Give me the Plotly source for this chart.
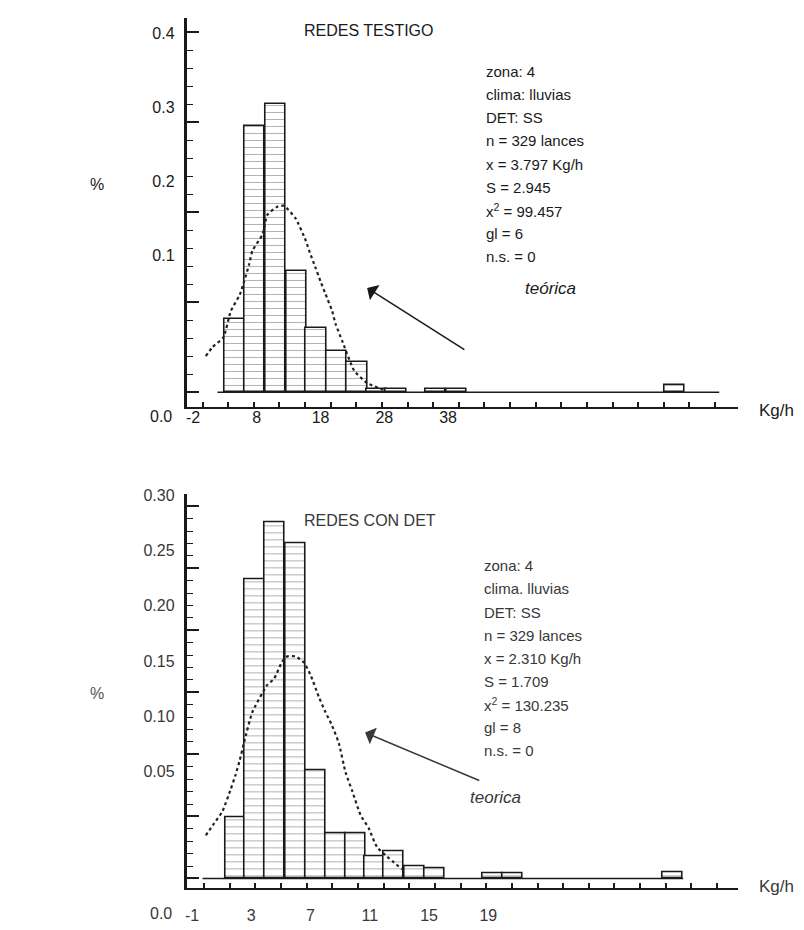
import plotly.graph_objects as go

# ---------------- data: top panel (REDES TESTIGO) ----------------
top_bin_center = [4.47, 7.66, 10.91, 14.22, 17.27, 20.48, 23.74, 26.76, 29.86, 36.05, 39.35, 73.5]
top_freq = [0.081, 0.296, 0.320, 0.135, 0.071, 0.046, 0.033, 0.003, 0.004, 0.004, 0.004, 0.008]
top_bin_width = 3.2
top_theory_x = [0.0, 1.05, 2.77, 3.92, 5.32, 6.01, 6.80, 7.31, 8.88, 9.66, 11.22, 12.27,
                14.09, 15.65, 16.18, 17.22, 18.0, 18.78, 19.83, 20.35, 21.40, 23.27, 25.31, 28.13]
top_theory_y = [0.040, 0.050, 0.061, 0.090, 0.108, 0.123, 0.142, 0.157, 0.175, 0.197, 0.206, 0.207,
                0.193, 0.169, 0.158, 0.138, 0.123, 0.109, 0.090, 0.076, 0.057, 0.024, 0.010, 0.002]
top_xtick_vals = [-2, 8, 18, 28, 38]
top_ytick_vals = [0.1, 0.2, 0.3, 0.4]
top_title = "REDES TESTIGO"
top_stats = ["zona: 4", "clima: lluvias", "DET: SS", "n = 329 lances", "x = 3.797 Kg/h",
             "S = 2.945", "x<sup>2</sup> = 99.457", "gl = 6", "n.s. = 0"]
top_curve_label = "teórica"

# ---------------- data: bottom panel (REDES CON DET) ----------------
bot_bin_center = [1.93, 3.24, 4.59, 5.99, 7.32, 8.66, 10.03, 11.32, 12.62, 14.0, 15.34, 19.30, 20.65, 31.47]
bot_freq = [0.049, 0.241, 0.287, 0.270, 0.087, 0.036, 0.036, 0.018, 0.022, 0.010, 0.008, 0.004, 0.004, 0.005]
bot_bin_width = 1.35
bot_theory_x = [-0.07, 0.50, 1.05, 1.61, 1.95, 2.22, 2.52, 3.07, 4.08, 4.54, 5.09, 5.43, 5.99,
                6.56, 7.0, 7.57, 8.01, 8.46, 8.91, 9.36, 9.81, 10.37, 10.93, 11.49, 13.18]
bot_theory_y = [0.0348, 0.0445, 0.0541, 0.0719, 0.0840, 0.0953, 0.110, 0.134, 0.156, 0.161, 0.175,
                0.179, 0.179, 0.174, 0.164, 0.146, 0.134, 0.123, 0.109, 0.0857, 0.0706, 0.0513,
                0.0404, 0.0253, 0.0074]
bot_xtick_vals = [-1, 3, 7, 11, 15, 19]
bot_ytick_vals = [0.05, 0.10, 0.15, 0.20, 0.25, 0.30]
bot_title = "REDES CON DET"
bot_stats = ["zona: 4", "clima. lluvias", "DET: SS", "n = 329 lances", "x = 2.310 Kg/h",
             "S = 1.709", "x<sup>2</sup> = 130.235", "gl = 8", "n.s. = 0"]
bot_curve_label = "teorica"

unit_label = "Kg/h"
pct_label = "%"
zero_label = "0.0"

# ---------------- layout constants ----------------
W, H = 804, 930
FONT = "Liberation Sans, Arial, sans-serif"
INK = "#1a1a1a"
INK2 = "#383838"


def px(xp):
    return xp / W


def py(yp):
    return 1 - yp / H


bar_marker = dict(
    color="white",
    line=dict(color=INK, width=1.6),
    pattern=dict(shape="-", size=7, solidity=0.13, fgcolor="#555555", fillmode="overlay"),
)
curve_line = dict(color="#222222", width=2.2, dash="dot", shape="spline", smoothing=0.5)

fig = go.Figure()
fig.add_trace(go.Bar(x=top_bin_center, y=top_freq, width=top_bin_width, marker=bar_marker,
                     xaxis="x", yaxis="y", showlegend=False, hoverinfo="skip"))
fig.add_trace(go.Scatter(x=top_theory_x, y=top_theory_y, mode="lines", line=curve_line,
                         xaxis="x", yaxis="y", showlegend=False, hoverinfo="skip"))
fig.add_trace(go.Bar(x=bot_bin_center, y=bot_freq, width=bot_bin_width, marker=bar_marker,
                     xaxis="x2", yaxis="y2", showlegend=False, hoverinfo="skip"))
fig.add_trace(go.Scatter(x=bot_theory_x, y=bot_theory_y, mode="lines", line=curve_line,
                         xaxis="x2", yaxis="y2", showlegend=False, hoverinfo="skip"))
# carriers for the tick-label axes
fig.add_trace(go.Scatter(x=[None], y=[None], xaxis="x", yaxis="y3", showlegend=False, hoverinfo="skip"))
fig.add_trace(go.Scatter(x=[None], y=[None], xaxis="x2", yaxis="y4", showlegend=False, hoverinfo="skip"))


def xaxis_cfg(domain, rng, tickvals, tick0, dtick, anchor, standoff, color):
    return dict(
        domain=domain, range=rng, anchor=anchor,
        showline=True, linewidth=2, linecolor=INK, mirror=False,
        showgrid=False, zeroline=False,
        tickmode="array", tickvals=tickvals, ticktext=[str(v) for v in tickvals],
        ticks="", tickfont=dict(family=FONT, size=16, color=color),
        ticklabelstandoff=standoff,
        minor=dict(ticks="inside", ticklen=5, tickwidth=1.5, tickcolor=INK,
                   tickmode="linear", tick0=tick0, dtick=dtick, showgrid=False),
    )


def yaxis_cfg(domain, rng, major, minor_dtick, anchor):
    return dict(
        domain=domain, range=rng, anchor=anchor,
        showline=True, linewidth=2.5, linecolor=INK,
        showgrid=False, zeroline=False,
        tickmode="linear", tick0=0, dtick=major, showticklabels=False,
        ticks="inside", ticklen=13, tickwidth=1.6, tickcolor=INK,
        minor=dict(ticks="inside", ticklen=7, tickwidth=1.3, tickcolor=INK,
                   tickmode="linear", tick0=0, dtick=minor_dtick, showgrid=False),
    )


def label_axis_cfg(over, anchor, rng, vals, fmt, color):
    return dict(
        overlaying=over, anchor=anchor, side="left", range=rng,
        showline=False, showgrid=False, zeroline=False, ticks="",
        tickmode="array", tickvals=vals, ticktext=[fmt.format(v) for v in vals],
        tickfont=dict(family=FONT, size=16, color=color), ticklabelstandoff=11,
    )


fig.update_layout(
    width=W, height=H, margin=dict(l=0, r=0, t=0, b=0),
    paper_bgcolor="white", plot_bgcolor="white",
    font=dict(family=FONT, size=15, color=INK),
    bargap=0,
    xaxis=xaxis_cfg([px(177), px(730)], [-3.017, 83.52], top_xtick_vals, -0.513, 4.02, "y", -5, INK),
    yaxis=yaxis_cfg([py(395), py(3)], [-0.01654, 0.4157], 0.1, 0.02, "x"),
    yaxis3=label_axis_cfg("y", "x", [-0.1061, 0.4215], top_ytick_vals, "{:.1f}", INK),
    xaxis2=xaxis_cfg([px(177), px(730)], [-1.370, 35.87], bot_xtick_vals, -0.178, 1.731, "y2", 11, INK2),
    yaxis2=yaxis_cfg([py(880), py(483)], [-0.008, 0.3096], 0.05, 0.01, "x2"),
    yaxis4=label_axis_cfg("y2", "x2", [-0.0561, 0.3009], bot_ytick_vals, "{:.2f}", INK2),
)

# histogram baselines (zero line along the binned range)
fig.add_shape(type="line", xref="x", yref="y", x0=1.83, x1=80.55, y0=0, y1=0,
              line=dict(color=INK, width=1.5), layer="below")
fig.add_shape(type="line", xref="x2", yref="y2", x0=-0.29, x1=32.16, y0=0, y1=0,
              line=dict(color=INK, width=1.5), layer="below")

ann = []


def text(x, y, s, size=15, color=INK, xanchor="left", italic=False):
    ann.append(dict(x=px(x), y=py(y), xref="paper", yref="paper", text=s, showarrow=False,
                    xanchor=xanchor, yanchor="middle",
                    font=dict(family=FONT, size=size, color=color,
                              style="italic" if italic else "normal")))


text(293, 16, top_title, size=16)
text(293, 509, bot_title, size=16, color=INK2)
for i, s in enumerate(top_stats):
    text(475, 57 + 23.3 * i, s)
for i, s in enumerate(bot_stats):
    text(473, 555 + 23.3 * i, s, color=INK2)
text(514, 276, top_curve_label, size=17, italic=True)
text(459, 788, bot_curve_label, size=17, italic=True, color=INK2)
text(87, 171, pct_label, size=16, xanchor="center")
text(87, 684, pct_label, size=16, xanchor="center", color="#555555")
text(749, 398, unit_label, size=17)
text(749, 878, unit_label, size=17, color=INK2)
text(164, 405, zero_label, size=16, xanchor="right")
text(164, 905, zero_label, size=16, xanchor="right", color=INK2)

ann.append(dict(x=25.31, y=0.1158, xref="x", yref="y", ax=40.8, ay=0.0463, axref="x", ayref="y",
                text="", showarrow=True, arrowhead=1, arrowsize=2.0, arrowwidth=1.5, arrowcolor=INK))
ann.append(dict(x=10.68, y=0.1176, xref="x2", yref="y2", ax=18.49, ay=0.0784, axref="x2", ayref="y2",
                text="", showarrow=True, arrowhead=1, arrowsize=2.0, arrowwidth=1.5, arrowcolor=INK2))

fig.update_layout(annotations=ann)
fig.write_html("out.html")
